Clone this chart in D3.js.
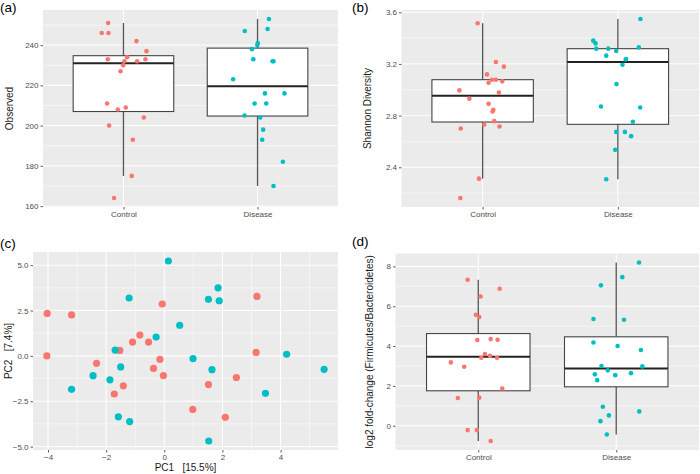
<!DOCTYPE html>
<html>
<head>
<meta charset="utf-8">
<script src="https://cdn.jsdelivr.net/npm/d3@7"></script>
<style>
  body { margin: 0; background: #fff; }
  svg { font-family: "Liberation Sans", Arial, sans-serif; }
  .pre { white-space: pre; }
</style>
</head>
<body>
<div id="chart"></div>
<script>
const WIDTH = 700
const HEIGHT = 474

const RED = "#F8766D"
const TEAL = "#00BFC4"

const groups = ["Control", "Disease"]

// (a) observed richness, value + horizontal jitter (in category units)
const observedControl = [251, 246, 246, 242, 237, 233, 234, 232, 232, 233, 230, 227, 211, 208, 209, 204, 200, 193, 175, 164]
const observedControlJit = [-0.114, -0.162, -0.112, 0.097, 0.172, -0.117, 0.027, 0.007, 0.102, 0.164, -0.002, -0.022, -0.122, -0.042, 0.017, 0.152, -0.107, 0.070, 0.062, -0.070]
const observedDisease = [253, 247, 248, 241, 240, 238, 233, 232, 232, 223, 216, 216, 211, 211, 205, 204, 198, 193, 182, 170]
const observedDiseaseJit = [0.085, -0.095, 0.075, 0.002, -0.002, -0.042, -0.032, 0.112, 0.119, -0.182, 0.055, 0.201, -0.022, 0.065, -0.097, 0.020, 0.042, 0.035, 0.189, 0.119]

// (b) Shannon diversity
const shannonControl = [3.515, 3.215, 3.179, 3.119, 3.078, 3.078, 3.054, 3.065, 2.995, 2.979, 2.930, 2.891, 2.845, 2.832, 2.757, 2.731, 2.700, 2.716, 2.312, 2.162]
const shannonControlJit = [-0.037, 0.098, 0.157, 0.032, 0.069, 0.098, 0.044, 0.145, -0.172, 0.120, -0.098, 0.044, 0.079, 0.074, 0.086, 0.012, -0.162, 0.125, -0.027, -0.165]
const shannonDisease = [3.548, 3.380, 3.359, 3.318, 3.318, 3.300, 3.328, 3.264, 3.238, 3.234, 3.194, 3.044, 2.871, 2.863, 2.752, 2.674, 2.674, 2.641, 2.535, 2.307]
const shannonDiseaseJit = [0.167, -0.182, -0.165, -0.160, -0.071, -0.012, 0.155, -0.086, 0.061, 0.058, 0.034, -0.010, -0.125, 0.165, 0.111, -0.012, 0.052, 0.098, -0.020, -0.086]

// (c) PCA scores
const pcaControlX = [-4.03, -3.19, -4.04, -2.33, -1.72, -1.41, -1.53, -0.84, -1.09, -0.54, -0.07, -0.15, -0.37, -0.03, 0.98, 1.52, 2.10, 2.48, 3.19, 3.16]
const pcaControlY = [2.34, 2.26, 0.00, -0.41, -2.10, -1.65, 0.30, 1.15, 0.76, 0.76, 2.86, -0.19, -0.69, -1.08, -2.95, -1.58, -3.38, -1.19, 3.28, 0.19]
const pcaDiseaseX = [0.14, -1.21, 1.85, 1.52, 1.89, 0.53, -0.28, -1.69, -1.50, -2.45, -1.87, -3.19, -1.58, -1.19, 0.99, 1.64, 1.53, 3.48, 4.21, 5.50]
const pcaDiseaseY = [5.23, 3.19, 3.75, 3.12, 3.04, 1.69, 1.04, 0.32, -0.61, -1.09, -1.32, -1.84, -3.36, -3.62, -0.15, -0.76, -4.69, -2.06, 0.09, -0.74]

// (d) log2 fold-change Firmicutes/Bacteroidetes
const fcControl = [7.33, 6.88, 6.49, 5.57, 5.46, 4.30, 4.35, 4.32, 3.60, 3.51, 3.41, 3.41, 3.18, 2.96, 1.87, 1.39, 1.41, -0.22, -0.22, -0.77]
const fcControlJit = [-0.077, 0.155, 0.017, -0.017, 0.007, -0.007, 0.090, 0.140, 0.048, 0.085, 0.022, 0.136, -0.199, -0.102, 0.174, -0.148, 0.007, -0.077, -0.010, 0.090]
const fcDisease = [8.20, 7.46, 7.05, 5.36, 5.32, 4.18, 4.00, 3.80, 3.00, 2.98, 2.78, 2.58, 2.54, 2.64, 2.29, 0.95, 0.72, 0.52, 0.23, -0.44]
const fcDiseaseJit = [0.165, 0.044, -0.111, -0.165, 0.056, -0.165, 0.010, 0.179, -0.107, 0.189, -0.061, -0.155, -0.007, 0.107, -0.138, -0.097, 0.167, -0.053, -0.114, -0.068]

const observedTicks = [160, 180, 200, 220, 240]
const shannonTicks = [2.4, 2.8, 3.2, 3.6]
const pcaXTicks = [-4, -2, 0, 2, 4]
const pcaYTicks = [-5, -2.5, 0, 2.5, 5]
const fcTicks = [0, 2, 4, 6, 8]

const svg = d3.select("#chart")
    .append("svg")
    .attr("width", WIDTH)
    .attr("height", HEIGHT)

function minorTicks(ticks) {
    let step = ticks[1] - ticks[0]
    let out = []
    for (let i = -1; i < ticks.length; i++) out.push(ticks[0] + step * (i + 0.5))
    return out
}

function panelFrame(g, x, y, box, yTicks, xTicks) {
    g.append("rect")
        .attr("x", box.left).attr("y", box.top)
        .attr("width", box.right - box.left).attr("height", box.bottom - box.top)
        .attr("fill", "#EBEBEB")

    let [y0, y1] = y.domain()
    g.append("g").selectAll("line")
        .data(minorTicks(yTicks).filter(v => v > y0 && v < y1))
        .join("line")
        .attr("x1", box.left).attr("x2", box.right)
        .attr("y1", d => y(d)).attr("y2", d => y(d))
        .attr("stroke", "#fff").attr("stroke-width", 0.5)

    g.append("g").selectAll("line")
        .data(yTicks)
        .join("line")
        .attr("x1", box.left).attr("x2", box.right)
        .attr("y1", d => y(d)).attr("y2", d => y(d))
        .attr("stroke", "#fff").attr("stroke-width", 1)

    if (xTicks) {
        let [x0, x1] = x.domain()
        g.append("g").selectAll("line")
            .data(minorTicks(xTicks).filter(v => v > x0 && v < x1))
            .join("line")
            .attr("y1", box.top).attr("y2", box.bottom)
            .attr("x1", d => x(d)).attr("x2", d => x(d))
            .attr("stroke", "#fff").attr("stroke-width", 0.5)
    }
    g.append("g").selectAll("line")
        .data(xTicks || x.domain())
        .join("line")
        .attr("y1", box.top).attr("y2", box.bottom)
        .attr("x1", d => x(d)).attr("x2", d => x(d))
        .attr("stroke", "#fff").attr("stroke-width", 1)
}

function styleAxis(sel) {
    sel.select(".domain").remove()
    sel.selectAll(".tick line").attr("stroke", "#333").attr("stroke-width", 0.8)
    sel.selectAll(".tick text").attr("fill", "#4D4D4D").attr("font-size", 8)
}

function axes(g, x, y, box, yTicks, yFmt, xTicks) {
    g.append("g")
        .attr("transform", `translate(${box.left},0)`)
        .call(d3.axisLeft(y).tickValues(yTicks).tickFormat(yFmt).tickSize(2.5).tickPadding(2))
        .call(styleAxis)

    let xa = d3.axisBottom(x).tickSize(2.5).tickPadding(1.5)
    if (xTicks) xa.tickValues(xTicks).tickFormat(d3.format("d"))
    g.append("g")
        .attr("transform", `translate(0,${box.bottom})`)
        .call(xa)
        .call(styleAxis)
}

function label(text, x, y) {
    svg.append("text")
        .attr("x", x).attr("y", y)
        .attr("font-size", 13.5)
        .attr("fill", "#000")
        .text(text)
}

function yTitle(g, text, x, y) {
    g.append("text")
        .attr("class", "pre")
        .attr("transform", `translate(${x},${y}) rotate(-90)`)
        .attr("text-anchor", "middle")
        .attr("font-size", 10)
        .attr("fill", "#1a1a1a")
        .text(text)
}

// ggplot-style box stats (type 7 quantiles, 1.5 IQR whiskers)
function boxStats(values) {
    let s = values.slice().sort(d3.ascending)
    let q1 = d3.quantile(s, 0.25), med = d3.quantile(s, 0.5), q3 = d3.quantile(s, 0.75)
    let iqr = q3 - q1
    let lo = d3.min(s.filter(v => v >= q1 - 1.5 * iqr))
    let hi = d3.max(s.filter(v => v <= q3 + 1.5 * iqr))
    return { q1, med, q3, lo, hi }
}

function boxPanel(cfg) {
    let box = cfg.box
    let g = svg.append("g")

    // discrete axis: 0.6 category units of padding on each side
    let unit = (box.right - box.left) / 2.2
    let x = d3.scalePoint().domain(groups).range([box.left + 0.6 * unit, box.right - 0.6 * unit])

    let all = cfg.series.flatMap(s => s.values)
    let lo = d3.min(all), hi = d3.max(all)
    let pad = (hi - lo) * 0.05
    let y = d3.scaleLinear().domain([lo - pad, hi + pad]).range([box.bottom, box.top])

    panelFrame(g, x, y, box, cfg.ticks, null)

    cfg.series.forEach(s => {
        let st = boxStats(s.values)
        let c = x(s.name)
        let hw = unit * 0.375
        g.append("line")
            .attr("x1", c).attr("x2", c)
            .attr("y1", y(st.hi)).attr("y2", y(st.q3))
            .attr("stroke", "#555").attr("stroke-width", 1.3)
        g.append("line")
            .attr("x1", c).attr("x2", c)
            .attr("y1", y(st.q1)).attr("y2", y(st.lo))
            .attr("stroke", "#555").attr("stroke-width", 1.3)
        g.append("rect")
            .attr("x", c - hw).attr("width", hw * 2)
            .attr("y", y(st.q3)).attr("height", y(st.q1) - y(st.q3))
            .attr("fill", "#fff").attr("stroke", "#444").attr("stroke-width", 1.1)
        g.append("line")
            .attr("x1", c - hw).attr("x2", c + hw)
            .attr("y1", y(st.med)).attr("y2", y(st.med))
            .attr("stroke", "#222").attr("stroke-width", 2)
    })

    cfg.series.forEach(s => {
        g.append("g").selectAll("circle")
            .data(s.values.map((v, i) => ({ v, j: s.jitter[i] })))
            .join("circle")
            .attr("cx", d => x(s.name) + d.j * unit)
            .attr("cy", d => y(d.v))
            .attr("r", 2.3)
            .attr("fill", s.color)
    })

    axes(g, x, y, box, cfg.ticks, cfg.fmt, null)
    yTitle(g, cfg.title, cfg.titleX, (box.top + box.bottom) / 2)
}

// (a)
label("(a)", 0, 12)
boxPanel({
    box: { left: 43, right: 338, top: 10, bottom: 207 },
    series: [
        { name: "Control", values: observedControl, jitter: observedControlJit, color: RED },
        { name: "Disease", values: observedDisease, jitter: observedDiseaseJit, color: TEAL }
    ],
    ticks: observedTicks,
    fmt: d3.format("d"),
    title: "Observed",
    titleX: 12.5
})

// (b)
label("(b)", 352, 12)
boxPanel({
    box: { left: 401.5, right: 699, top: 10, bottom: 207 },
    series: [
        { name: "Control", values: shannonControl, jitter: shannonControlJit, color: RED },
        { name: "Disease", values: shannonDisease, jitter: shannonDiseaseJit, color: TEAL }
    ],
    ticks: shannonTicks,
    fmt: d3.format(".1f"),
    title: "Shannon Diversity",
    titleX: 371
})

// (c)
label("(c)", 0, 248)
{
    let box = { left: 33, right: 338, top: 252, bottom: 450 }
    let g = svg.append("g")
    let xs = pcaControlX.concat(pcaDiseaseX), ys = pcaControlY.concat(pcaDiseaseY)
    let xp = (d3.max(xs) - d3.min(xs)) * 0.05, yp = (d3.max(ys) - d3.min(ys)) * 0.05
    let x = d3.scaleLinear().domain([d3.min(xs) - xp, d3.max(xs) + xp]).range([box.left, box.right])
    let y = d3.scaleLinear().domain([d3.min(ys) - yp, d3.max(ys) + yp]).range([box.bottom, box.top])

    panelFrame(g, x, y, box, pcaYTicks, pcaXTicks)

    let pts = pcaControlX.map((v, i) => ({ x: v, y: pcaControlY[i], c: RED }))
        .concat(pcaDiseaseX.map((v, i) => ({ x: v, y: pcaDiseaseY[i], c: TEAL })))
    g.append("g").selectAll("circle")
        .data(pts)
        .join("circle")
        .attr("cx", d => x(d.x))
        .attr("cy", d => y(d.y))
        .attr("r", 3.6)
        .attr("fill", d => d.c)

    axes(g, x, y, box, pcaYTicks, d3.format(".1f"), pcaXTicks)
    yTitle(g, "PC2   [7.4%]", 11.5, 351)
    g.append("text")
        .attr("class", "pre")
        .attr("x", (box.left + box.right) / 2).attr("y", 470.5)
        .attr("text-anchor", "middle")
        .attr("font-size", 10)
        .attr("fill", "#1a1a1a")
        .text("PC1   [15.5%]")
}

// (d)
label("(d)", 352, 246)
boxPanel({
    box: { left: 395.5, right: 699, top: 253.5, bottom: 450 },
    series: [
        { name: "Control", values: fcControl, jitter: fcControlJit, color: RED },
        { name: "Disease", values: fcDisease, jitter: fcDiseaseJit, color: TEAL }
    ],
    ticks: fcTicks,
    fmt: d3.format("d"),
    title: "log2 fold-change (Firmicutes/Bacteroidetes)",
    titleX: 373
})
</script>
</body>
</html>
